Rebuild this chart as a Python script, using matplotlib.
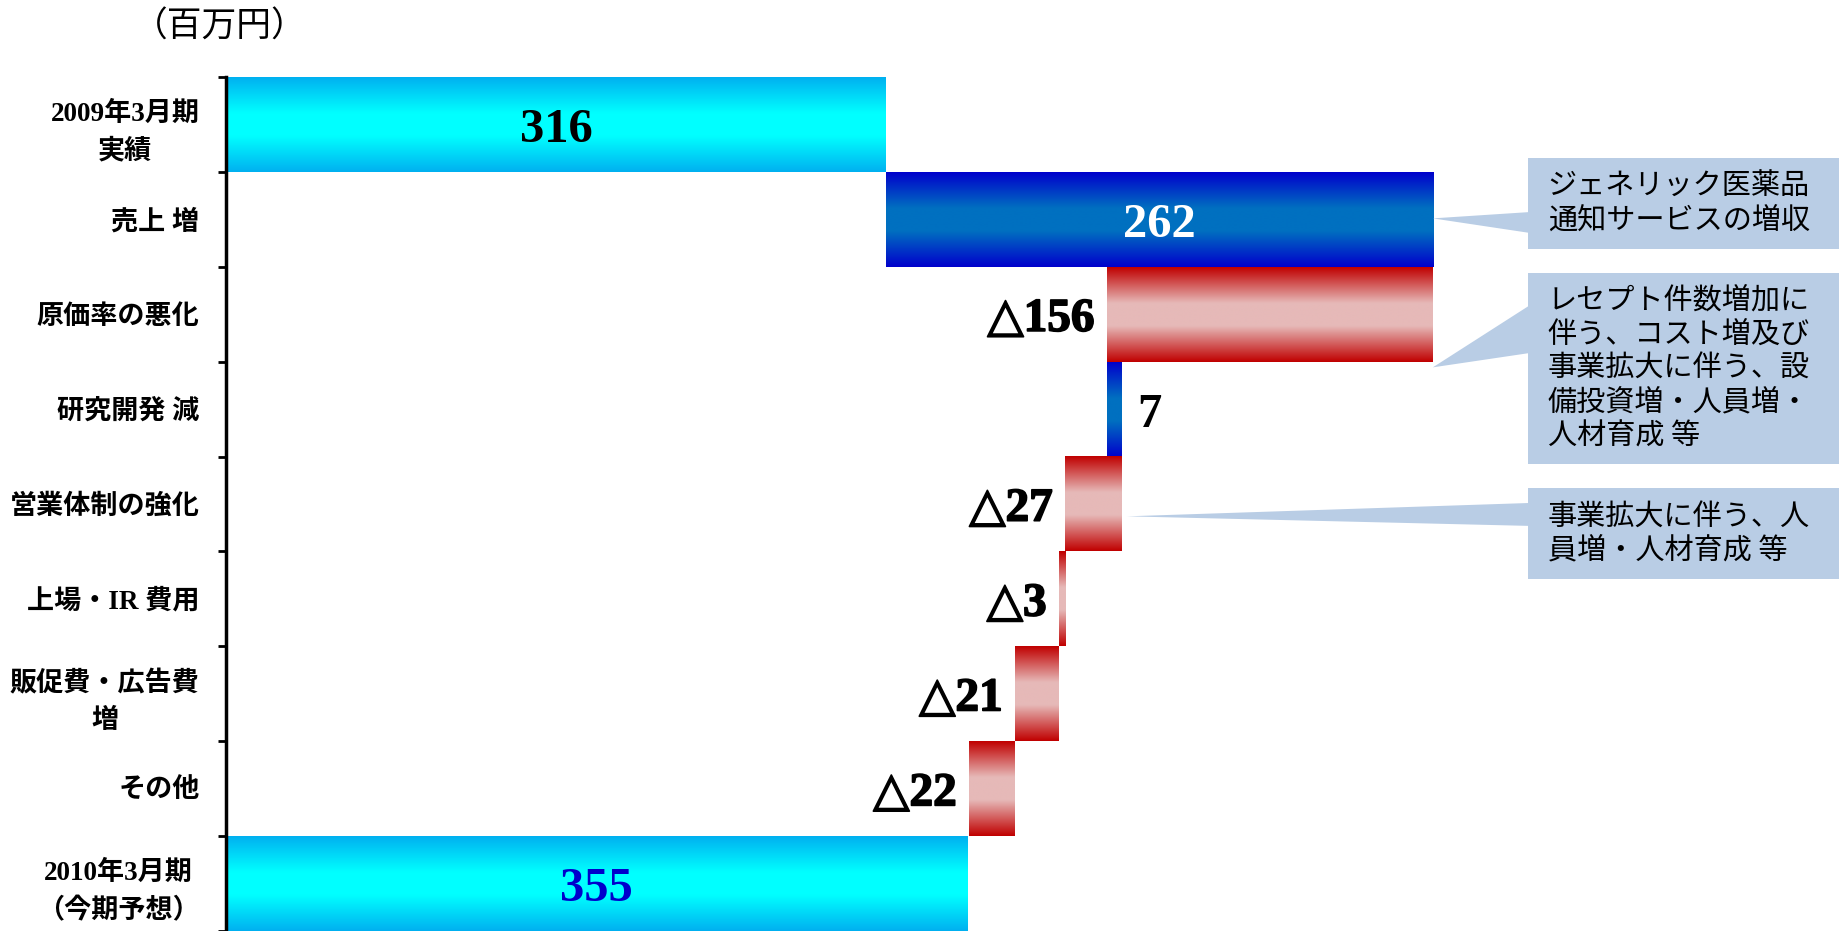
import numpy as np
import matplotlib
matplotlib.use("Agg")
import matplotlib.pyplot as plt
import matplotlib.patheffects as pe
from matplotlib.colors import LinearSegmentedColormap
from matplotlib.patches import Polygon, Rectangle

plt.rcParams['font.family'] = ['Liberation Serif', 'Noto Sans CJK JP', 'DejaVu Sans']

# data (百万円)
categories = ['2009年3月期\n実績', '売上 増', '原価率の悪化', '研究開発 減', '営業体制の強化',
              '上場・IR 費用', '販促費・広告費\n増', 'その他', '2010年3月期\n（今期予想）']
values = [316, 262, -156, 7, -27, -3, -21, -22, 355]
is_total = [True, False, False, False, False, False, False, False, True]

notes = ['ジェネリック医薬品\n通知サービスの増収',
         'レセプト件数増加に\n伴う、コスト増及び\n事業拡大に伴う、設\n備投資増・人員増・\n人材育成 等',
         '事業拡大に伴う、人\n員増・人材育成 等']


def grad_cmap(name, edge, mid):
    return LinearSegmentedColormap.from_list(
        name, [(0, edge), (0.38, mid), (0.62, mid), (1, edge)])


# gradient colour maps (edge -> middle -> edge)
cm_total = grad_cmap('tot', '#00B0F0', '#00FFFF')
cm_up = grad_cmap('up', '#0000CC', '#0070C0')
cm_down = grad_cmap('dn', '#C00000', '#E6B9B8')
grad = np.linspace(0, 1, 256).reshape(-1, 1)

fig = plt.figure(figsize=(18.4, 9.31), dpi=100)
ax = fig.add_axes([226 / 1840, 0, 1614 / 1840, (931 - 77) / 931])

num_font = ['Liberation Serif', 'DejaVu Sans']
dy = 0.06  # nudge numbers down a bit so digits sit centred in the row

n = len(categories)
cum = 0
for i, (v, tot) in enumerate(zip(values, is_total)):
    if tot:
        left, right = 0, v
        cmap = cm_total
        cum = v
    elif v >= 0:
        left, right = cum, cum + v
        cmap = cm_up
        cum += v
    else:
        left, right = cum + v, cum
        cmap = cm_down
        cum += v
    ax.imshow(grad, extent=[left, right, i + 0.5, i - 0.5], aspect='auto',
              cmap=cmap, interpolation='bilinear', zorder=2)

    if tot:
        col = 'black' if i == 0 else '#0000CC'
        ax.text((left + right) / 2, i + dy, str(v), ha='center', va='center',
                fontsize=35, fontweight='bold', color=col, family=num_font, zorder=4)
    elif v > 100:
        ax.text((left + right) / 2, i + dy, str(v), ha='center', va='center',
                fontsize=35, fontweight='bold', color='white', family=num_font, zorder=4)
    elif v > 0:
        ax.annotate(str(v), (right, i + dy), xytext=(11, 0), textcoords='offset points',
                    ha='left', va='center', fontsize=35, fontweight='bold',
                    family=num_font, zorder=4)
    else:
        ax.annotate('△' + str(abs(v)), (left, i + dy), xytext=(-9, 0), textcoords='offset points',
                    ha='right', va='center', fontsize=34, fontweight='bold',
                    family=num_font, zorder=4,
                    path_effects=[pe.withStroke(linewidth=1.2, foreground='black')])

ax.set_xlim(0, 773)
ax.set_ylim(n - 0.5, -0.5)

# callout boxes
box_color = '#B9CDE5'
box_x0 = 623.6
boxes = [(0.354, 1.312), (1.565, 3.578), (3.831, 4.790)]
pointers = [((578, 0.99), 0.923, 1.144),
            ((578, 2.56), 1.903, 2.408),
            ((431.5, 4.13), 3.989, 4.231)]
for (y0, y1), (tip, b0, b1), txt in zip(boxes, pointers, notes):
    ax.add_patch(Rectangle((box_x0, y0), 773 - box_x0, y1 - y0, facecolor=box_color,
                           edgecolor='none', clip_on=False, zorder=3))
    ax.add_patch(Polygon([tip, (box_x0 + 1, b0), (box_x0 + 1, b1)], closed=True,
                         facecolor=box_color, edgecolor='none', clip_on=False, zorder=3))
    ax.text(633, (y0 + y1) / 2, txt, ha='left', va='center', fontsize=21,
            family='Noto Sans CJK JP', linespacing=1.17, zorder=4)

# axes styling
for s in ['top', 'right', 'bottom']:
    ax.spines[s].set_visible(False)
ax.spines['left'].set_linewidth(2.5)
ax.set_xticks([])
ax.set_yticks(np.arange(n + 1) - 0.5)
ax.set_yticklabels([])
ax.tick_params(axis='y', which='major', length=6, width=2)
ax.set_yticks(np.arange(n), minor=True)
ax.set_yticklabels(categories, minor=True, fontsize=19.5, fontweight='bold')
ax.tick_params(axis='y', which='minor', length=0, pad=19)
for lbl in ax.get_yticklabels(minor=True):
    lbl.set_multialignment('center')
    lbl.set_linespacing(1.6)

fig.text(220 / 1840, 1 - 27 / 931, '（百万円）', ha='center', va='center', fontsize=25,
         family='Noto Sans CJK JP')

fig.savefig('out.png', dpi=100)
